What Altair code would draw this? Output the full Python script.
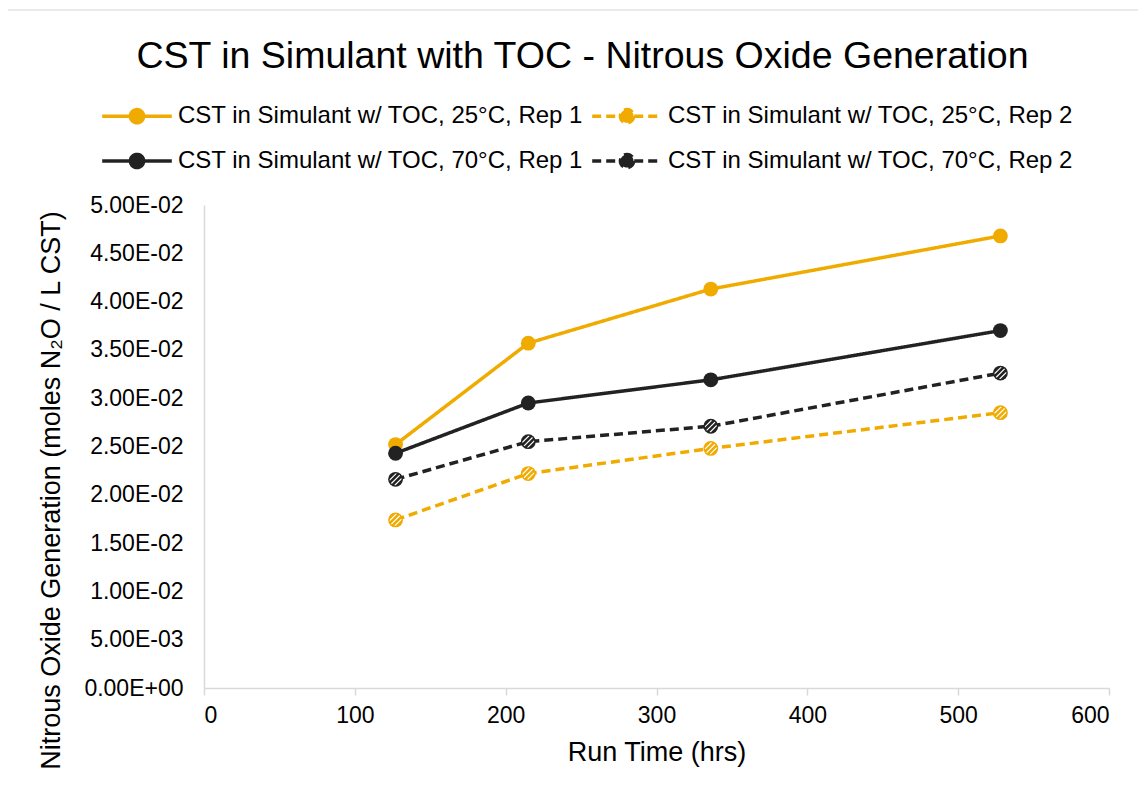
import altair as alt
import pandas as pd
import numpy as np

# ---------------- data ----------------
run_time = [127, 215, 336, 528]
rep1_25 = [0.0252, 0.0357, 0.0413, 0.0468]
rep2_25 = [0.0174, 0.0222, 0.0248, 0.0285]
rep1_70 = [0.0243, 0.0295, 0.0319, 0.0370]
rep2_70 = [0.0216, 0.0255, 0.0271, 0.0326]

series = [
    "CST in Simulant w/ TOC, 25°C, Rep 1",
    "CST in Simulant w/ TOC, 25°C, Rep 2",
    "CST in Simulant w/ TOC, 70°C, Rep 1",
    "CST in Simulant w/ TOC, 70°C, Rep 2",
]
values = [rep1_25, rep2_25, rep1_70, rep2_70]
x_ticks = [0, 100, 200, 300, 400, 500, 600]
y_ticks = [i * 0.005 for i in range(11)]

rows = []
for s, vals in zip(series, values):
    for t, v in zip(run_time, vals):
        rows.append({"series": s, "time": t, "value": v, "rep2": "Rep 2" in s})
df = pd.DataFrame(rows)

ORANGE = "#F0AB00"
BLACK = "#222222"
colors = [ORANGE, ORANGE, BLACK, BLACK]
dashes = [[1, 0], [9, 5], [1, 0], [9, 5]]
FONT = "Liberation Sans"
W, H = 905, 483

# hatch stripes path for Rep 2 markers (unit circle coordinates)
def band(c1, c2, R=0.8):
    pts = []
    for c, sgn in ((c1, 1), (c2, -1)):
        s = np.sqrt(max(R * R - c * c / 2, 0) / 2)
        a = (c / 2 - s * sgn, c / 2 + s * sgn)
        b = (c / 2 + s * sgn, c / 2 - s * sgn)
        pts += [a, b]
    return "M" + " L".join(f"{x:.3f},{y:.3f}" for x, y in pts) + " Z"

stripe_path = " ".join(band(c - 0.11, c + 0.11) for c in (-0.7, 0.0, 0.7))

legend_symbol = ("M -5.8,0 L 5.8,0 M 1.1,0 A 1.1,1.1 0 1,1 -1.1,0 "
                 "A 1.1,1.1 0 1,1 1.1,0 Z")

legend = alt.Legend(
    orient="none", legendX=-79, legendY=-101, direction="horizontal",
    columns=2, title=None, labelFont=FONT, labelFontSize=24,
    labelColor="#000000", labelLimit=1000, symbolType=legend_symbol,
    symbolSize=144, symbolStrokeWidth=3.5, labelOffset=29,
    columnPadding=1, rowPadding=17, padding=0,
)

x_enc = alt.X(
    "time:Q", scale=alt.Scale(domain=[0, 600], nice=False),
    axis=alt.Axis(values=x_ticks, title="Run Time (hrs)", grid=False,
                  domainColor="#d9d9d9", domainWidth=1.5, tickColor="#d9d9d9",
                  tickWidth=1.5, tickSize=7, labelFontSize=23, labelFont=FONT,
                  labelColor="#000000", labelPadding=9, titleFontSize=27,
                  titleFont=FONT, titleColor="#000000", titleFontWeight="normal",
                  titlePadding=12),
)
y_enc = alt.Y(
    "value:Q", scale=alt.Scale(domain=[0, 0.05], nice=False),
    axis=alt.Axis(
        values=y_ticks, title="Nitrous Oxide Generation (moles N₂O / L CST)",
        grid=False, ticks=False, domainColor="#d9d9d9", domainWidth=1.5,
        labelFontSize=23, labelFont=FONT, labelColor="#000000", labelPadding=21,
        labelExpr=("datum.value < 1e-9 ? '0.00E+00' : "
                   "format(datum.value / pow(10, floor(log(datum.value)/LN10 + 1e-9)), '.2f')"
                   " + 'E-0' + (-floor(log(datum.value)/LN10 + 1e-9))"),
        titleFontSize=27, titleFont=FONT, titleColor="#000000",
        titleFontWeight="normal", titlePadding=18, titleY=285,
    ),
)

color_enc = alt.Color("series:N", scale=alt.Scale(domain=series, range=colors),
                      sort=series, legend=legend)
dash_enc = alt.StrokeDash("series:N", scale=alt.Scale(domain=series, range=dashes),
                          sort=series, legend=legend)

base = alt.Chart(df)

# light chart-area border (decoration)
border = alt.Chart(pd.DataFrame({"b": [0]})).mark_rect(
    fill=None, stroke="#e3e3e3", strokeWidth=1.5
).encode(x=alt.value(-197), x2=alt.value(W + 200), y=alt.value(-195),
         y2=alt.value(H + 200))

lines = base.mark_line(strokeWidth=3.5).encode(
    x=x_enc, y=y_enc, color=color_enc, strokeDash=dash_enc, detail="series:N"
)
points = base.mark_point(filled=True, size=220, opacity=1).encode(
    x=x_enc, y=y_enc, color=color_enc
)
stripes = base.transform_filter("datum.rep2").mark_point(
    shape=stripe_path, filled=True, fill="white", size=220, opacity=1,
    strokeWidth=0
).encode(x=x_enc, y=y_enc)

chart = alt.layer(border, lines, points, stripes).properties(
    width=W, height=H,
    autosize=alt.AutoSizeParams(type="none"),
    padding={"left": 196, "top": 197, "right": 29, "bottom": 97},
    title=alt.TitleParams(
        "CST in Simulant with TOC - Nitrous Oxide Generation",
        font=FONT, fontSize=37.5, fontWeight="normal", color="#000000",
        anchor="middle", dx=-74, offset=-66,
    ),
).configure_view(stroke=None)

chart.save("out.html", embed_options={"renderer": "svg", "actions": False})
